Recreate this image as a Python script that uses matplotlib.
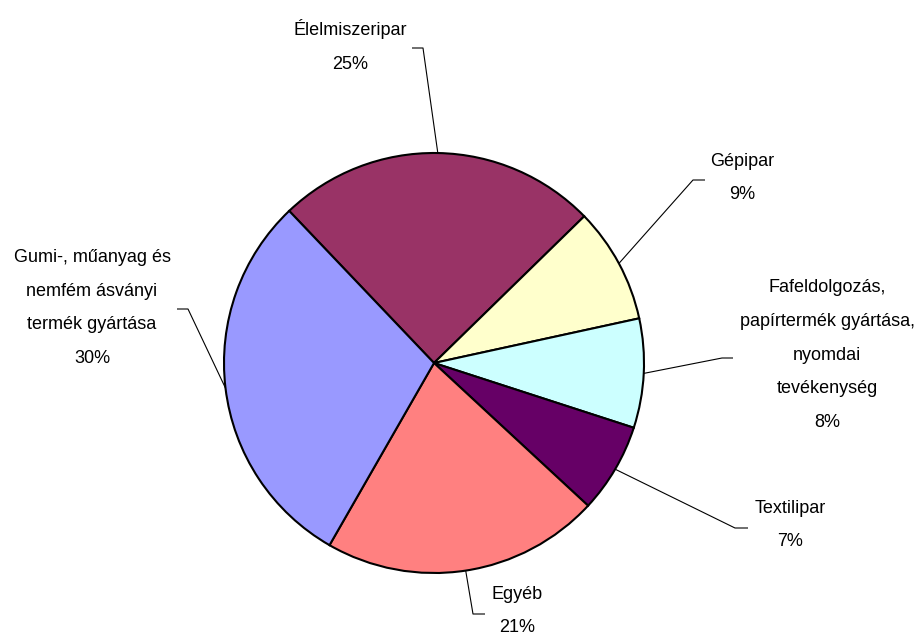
import numpy as np
import matplotlib
matplotlib.use('Agg')
import matplotlib.pyplot as plt

plt.rcParams['font.family'] = ['Liberation Sans', 'DejaVu Sans']

categories = ['Élelmiszeripar', 'Gépipar',
              'Fafeldolgozás,\npapírtermék gyártása,\nnyomdai\ntevékenység',
              'Textilipar', 'Egyéb',
              'Gumi-, műanyag és\nnemfém ásványi\ntermék gyártása']
shares = [24.8, 8.9, 8.4, 6.9, 21.4, 29.6]
colors = ['#993366', '#FFFFCC', '#CCFFFF', '#660066', '#FF8080', '#9999FF']

W, H = 919, 635


def fy(y):
    # pixel row -> data y
    return H - y


# label centre, elbow of leader line, end of leader line (pixels)
label_pos = [(350, 46), (742, 178), (827, 355), (790, 525), (517, 611), (92, 308)]
elbows = [(423, 48), (693, 180), (722, 358), (735, 528), (473, 614), (188, 309)]
ends = [(412, 48), (705, 180), (733, 358), (748, 528), (485, 614), (177, 309)]

fig = plt.figure(figsize=(W / 100, H / 100), dpi=100)
ax = fig.add_axes([0, 0, 1, 1])

cx, cy, r = 434, fy(363), 210
wedges, _ = ax.pie(shares, colors=colors, startangle=133.6, counterclock=False,
                   center=(cx, cy), radius=r,
                   wedgeprops=dict(edgecolor='black', linewidth=1.5))

total = sum(shares)
for w, name, val, lp, el, en in zip(wedges, categories, shares, label_pos, elbows, ends):
    mid = np.deg2rad((w.theta1 + w.theta2) / 2)
    px, py = cx + r * np.cos(mid), cy + r * np.sin(mid)
    ax.plot([px, el[0], en[0]], [py, fy(el[1]), fy(en[1])],
            color='black', lw=0.8, solid_capstyle='butt')
    pct = round(val / total * 100)
    ax.text(lp[0], fy(lp[1]), f'{name}\n{pct}%', ha='center', va='center',
            multialignment='center', fontsize=13, linespacing=2.3)

ax.set_xlim(0, W)
ax.set_ylim(0, H)
ax.set_aspect('equal')
ax.axis('off')

fig.savefig('out.png', dpi=100, facecolor='white')
